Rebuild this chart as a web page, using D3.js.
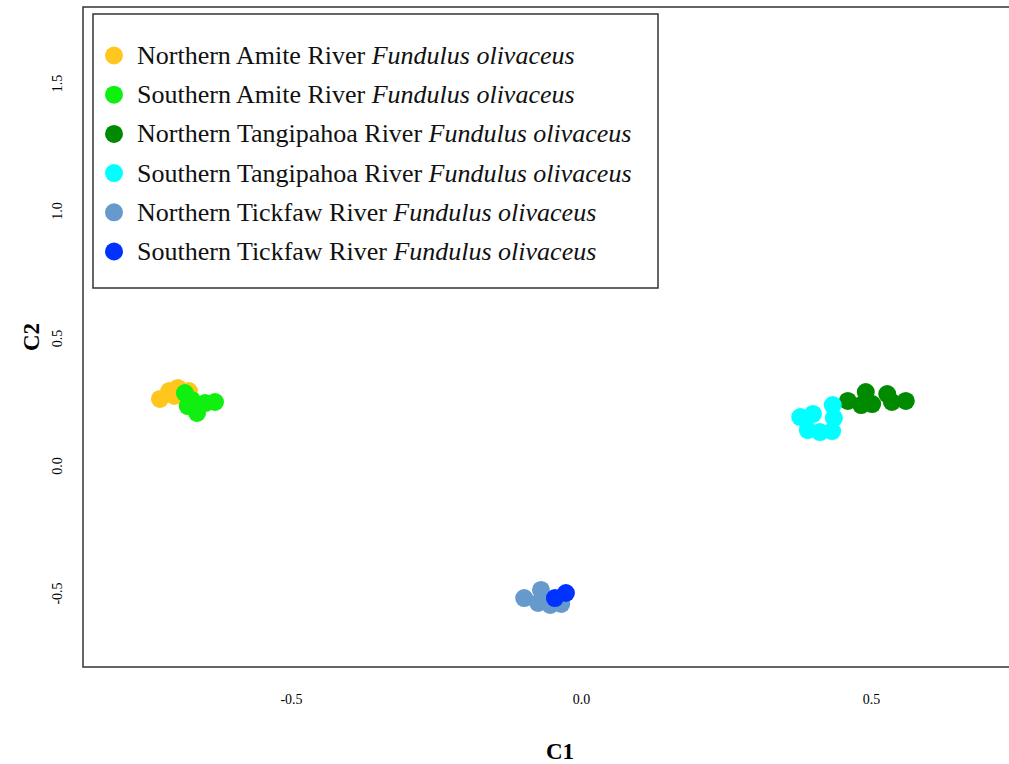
<!DOCTYPE html>
<html>
<head>
<meta charset="utf-8">
<script src="https://cdn.jsdelivr.net/npm/d3@7"></script>
<style>
  html, body { margin: 0; padding: 0; background: #fff; }
  svg { display: block; font-family: "Liberation Serif", "Times New Roman", serif; }
</style>
</head>
<body>
<svg id="chart" width="1009" height="764"></svg>
<script>
// Population groups and colours
const groups = [
  "Northern Amite River",
  "Southern Amite River",
  "Northern Tangipahoa River",
  "Southern Tangipahoa River",
  "Northern Tickfaw River",
  "Southern Tickfaw River"
];
const species = "Fundulus olivaceus";
const colors = ["#FFC61E", "#10F010", "#008A00", "#00FFFF", "#6699CC", "#0033FF"];

// C1 / C2 coordinates per group
const c1NorthAmite = [-0.726, -0.710, -0.695, -0.676, -0.701];
const c2NorthAmite = [0.263, 0.294, 0.306, 0.294, 0.275];
const c1SouthAmite = [-0.683, -0.671, -0.662, -0.648, -0.631, -0.678];
const c2SouthAmite = [0.286, 0.259, 0.208, 0.247, 0.251, 0.235];
const c1NorthTangi = [0.460, 0.491, 0.483, 0.502, 0.528, 0.536, 0.560];
const c2NorthTangi = [0.255, 0.290, 0.239, 0.243, 0.282, 0.251, 0.255];
const c1SouthTangi = [0.378, 0.400, 0.391, 0.412, 0.433, 0.434, 0.436];
const c2SouthTangi = [0.192, 0.204, 0.141, 0.133, 0.137, 0.239, 0.188];
const c1NorthTick = [-0.098, -0.069, -0.074, -0.053, -0.034];
const c2NorthTick = [-0.518, -0.486, -0.537, -0.545, -0.541];
const c1SouthTick = [-0.045, -0.026];
const c2SouthTick = [-0.518, -0.498];

const xTicks = [-0.5, 0.0, 0.5];
const yTicks = [-0.5, 0.0, 0.5, 1.0, 1.5];

const series = [
  [c1NorthAmite, c2NorthAmite],
  [c1SouthAmite, c2SouthAmite],
  [c1NorthTangi, c2NorthTangi],
  [c1SouthTangi, c2SouthTangi],
  [c1NorthTick, c2NorthTick],
  [c1SouthTick, c2SouthTick]
];

const svg = d3.select("#chart");

// Plot region (right edge runs past the canvas)
const plotL = 83, plotT = 7, plotB = 667, plotR = 1060;

const x = d3.scaleLinear().domain([-0.5, 0.5]).range([291, 871]);
const y = d3.scaleLinear().domain([0, 1]).range([466, 211]);

// Tick labels (no tick marks), plain hyphen for negatives
const fmt = d => d3.format(".1f")(d).replace("\u2212", "-");
const xAxis = d3.axisBottom(x).tickValues(xTicks).tickFormat(fmt).tickSize(0).tickPadding(0);
const gx = svg.append("g").attr("transform", `translate(0,${plotB + 27})`).call(xAxis);
gx.select(".domain").remove();
gx.selectAll("text").attr("font-size", 14).attr("font-family", "Liberation Serif").attr("fill", "#000");

const yAxis = d3.axisLeft(y).tickValues(yTicks).tickFormat(fmt).tickSize(0).tickPadding(0);
const gy = svg.append("g").attr("transform", `translate(${plotL - 26},0)`).call(yAxis);
gy.select(".domain").remove();
gy.selectAll(".tick").attr("transform", null);
gy.selectAll("text")
  .attr("font-size", 14).attr("font-family", "Liberation Serif").attr("fill", "#000")
  .attr("text-anchor", "middle").attr("dy", null)
  .attr("transform", "rotate(-90)")
  .attr("x", d => -y(d)).attr("y", 5);

// Axis titles
svg.append("text").attr("x", 560).attr("y", 759)
  .attr("text-anchor", "middle").attr("font-size", 23).attr("font-weight", "bold").text("C1");
svg.append("text").attr("transform", "translate(39,337) rotate(-90)")
  .attr("text-anchor", "middle").attr("font-size", 23).attr("font-weight", "bold").text("C2");

// Points
const pts = svg.append("g");
series.forEach((s, i) => {
  const data = s[0].map((v, j) => [v, s[1][j]]);
  pts.selectAll(null).data(data).enter().append("circle")
    .attr("cx", d => x(d[0])).attr("cy", d => y(d[1]))
    .attr("r", 9).attr("fill", colors[i]);
});

// Plot frame
svg.append("rect").attr("x", plotL).attr("y", plotT)
  .attr("width", plotR - plotL).attr("height", plotB - plotT)
  .attr("fill", "none").attr("stroke", "#333").attr("stroke-width", 1.5);

// Legend
const lg = svg.append("g");
lg.append("rect").attr("x", 93).attr("y", 14).attr("width", 565).attr("height", 274)
  .attr("fill", "#fff").attr("stroke", "#333").attr("stroke-width", 1.5);
groups.forEach((g, i) => {
  const cy = 55.5 + i * 39.2;
  lg.append("circle").attr("cx", 114).attr("cy", cy).attr("r", 9).attr("fill", colors[i]);
  const t = lg.append("text").attr("x", 137).attr("y", cy + 8.5).attr("font-size", 26).attr("fill", "#111");
  t.append("tspan").text(g + " ");
  t.append("tspan").attr("font-style", "italic").text(species);
});
</script>
</body>
</html>
